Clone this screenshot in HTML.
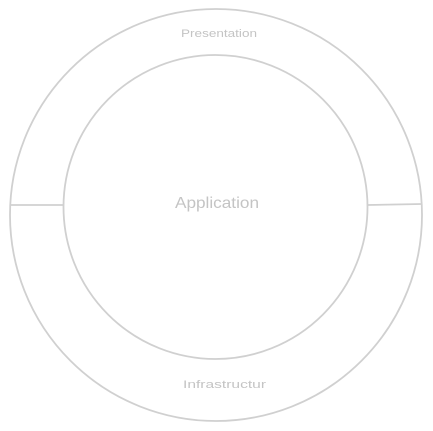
<!DOCTYPE html>
<html><head><meta charset="utf-8"><style>
html,body{margin:0;padding:0;background:#fff;width:433px;height:431px;overflow:hidden}
text{font-family:"Liberation Sans",sans-serif;fill:#c4c4c4}
</style></head><body>
<svg width="433" height="431" viewBox="0 0 433 431">
<circle cx="216" cy="215" r="206" fill="none" stroke="#d0d0d0" stroke-width="1.8"/>
<circle cx="215.5" cy="207" r="152" fill="none" stroke="#d0d0d0" stroke-width="1.8"/>
<line x1="10" y1="205" x2="63.5" y2="205" stroke="#d0d0d0" stroke-width="1.8"/>
<line x1="367.5" y1="205" x2="422" y2="204" stroke="#d0d0d0" stroke-width="1.8"/>
<text x="181" y="37" font-size="11" textLength="76" lengthAdjust="spacingAndGlyphs">Presentation</text>
<text x="175" y="208" font-size="16" textLength="84" lengthAdjust="spacingAndGlyphs">Application</text>
<text x="183" y="388" font-size="11" textLength="83" lengthAdjust="spacingAndGlyphs">Infrastructur</text>
</svg>
</body></html>
